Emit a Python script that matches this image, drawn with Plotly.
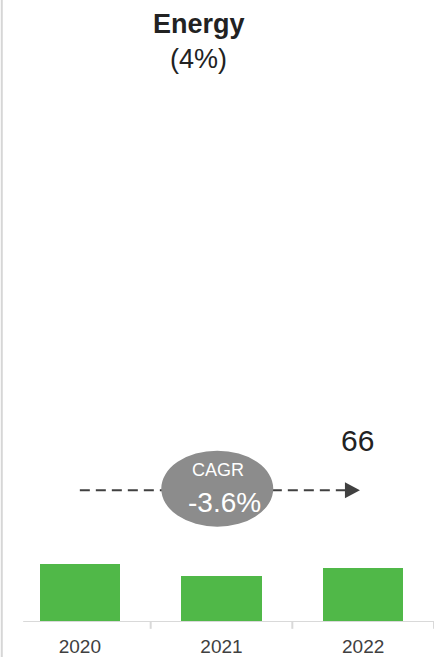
import plotly.graph_objects as go

# Annual values for the Energy segment
years = ["2020", "2021", "2022"]
values = [71, 56, 66]
segment = "Energy"
share_label = "(4%)"

BAR_COLOR = "#50b848"
TEXT_DARK = "#222222"
ARROW_COLOR = "#404040"
FONT = "Liberation Sans, Arial, sans-serif"

# compound annual growth between first and last year
n_years = len(values) - 1
cagr = (values[-1] / values[0]) ** (1 / n_years) - 1
cagr_text = f"{cagr * 100:.1f}%"

fig = go.Figure()
fig.add_trace(go.Bar(
    x=list(range(len(years))),
    y=values,
    marker=dict(color=BAR_COLOR, line=dict(width=0)),
    width=0.565,
    hoverinfo="skip",
))

arrow_y = 160
first, last = 0, len(values) - 1
mid = (first + last) / 2

shapes = [
    # frame line on the left edge
    dict(type="line", xref="paper", yref="paper", x0=-0.017, x1=-0.017, y0=-0.06, y1=1.06,
         line=dict(color="#d6d6d6", width=2)),
    # category axis baseline
    dict(type="line", xref="x", yref="y", x0=-0.4, x1=2.5, y0=0, y1=0,
         line=dict(color="#d9d9d9", width=2)),
    # dashed trend arrow shaft
    dict(type="line", xref="x", yref="y", x0=first, x1=last - 0.09, y0=arrow_y, y1=arrow_y,
         line=dict(color=ARROW_COLOR, width=2, dash="10px,6px")),
    # arrow head
    dict(type="path", xref="x", yref="y", xsizemode="pixel", ysizemode="pixel",
         xanchor=last - 0.03, yanchor=arrow_y,
         path="M -14 8 L 1 0 L -14 -8 Z",
         fillcolor=ARROW_COLOR, line=dict(width=0)),
    # CAGR bubble
    dict(type="circle", xref="x", yref="y", xsizemode="pixel", ysizemode="pixel",
         xanchor=mid - 0.03, yanchor=arrow_y + 2,
         x0=-56, x1=56, y0=-38, y1=38,
         fillcolor="#8c8c8c", line=dict(width=0)),
]
for b in (0.5, 1.5, 2.5):
    shapes.append(dict(type="line", xref="x", yref="paper", x0=b, x1=b, y0=0, y1=-0.011,
                       line=dict(color="#d9d9d9", width=2)))

annotations = [
    dict(text=f"<b>{segment}</b>", xref="paper", yref="paper", x=0.447, y=0.962,
         xanchor="center", yanchor="middle",
         showarrow=False, font=dict(size=27, color=TEXT_DARK, family=FONT)),
    dict(text=share_label, xref="paper", yref="paper", x=0.447, y=0.905,
         xanchor="center", yanchor="middle",
         showarrow=False, font=dict(size=27, color=TEXT_DARK, family=FONT)),
    dict(text="CAGR", xref="x", yref="y", x=mid, y=arrow_y, xshift=-4, yshift=20,
         xanchor="center", yanchor="middle",
         showarrow=False, font=dict(size=18, color="white", family=FONT)),
    dict(text=cagr_text, xref="x", yref="y", x=mid, y=arrow_y, xshift=3, yshift=-12,
         xanchor="center", yanchor="middle",
         showarrow=False, font=dict(size=28, color="white", family=FONT)),
    dict(text=str(values[-1]), xref="x", yref="y", x=last, y=arrow_y, xshift=-6, yshift=50,
         xanchor="center", yanchor="middle",
         showarrow=False, font=dict(size=30, color=TEXT_DARK, family=FONT)),
]

fig.update_layout(
    width=439, height=657,
    margin=dict(l=9, r=5, t=0, b=35),
    paper_bgcolor="white", plot_bgcolor="white",
    showlegend=False,
    shapes=shapes,
    annotations=annotations,
    bargap=0,
)
fig.update_xaxes(
    range=[-0.5, 2.5], tickmode="array", tickvals=list(range(len(years))), ticktext=years,
    showgrid=False, zeroline=False, showline=False, ticks="",
    tickfont=dict(size=19, color="#404040", family=FONT), ticklabelstandoff=11,
)
fig.update_yaxes(range=[0, 756], visible=False, showgrid=False, zeroline=False)

fig.write_html("out.html")
